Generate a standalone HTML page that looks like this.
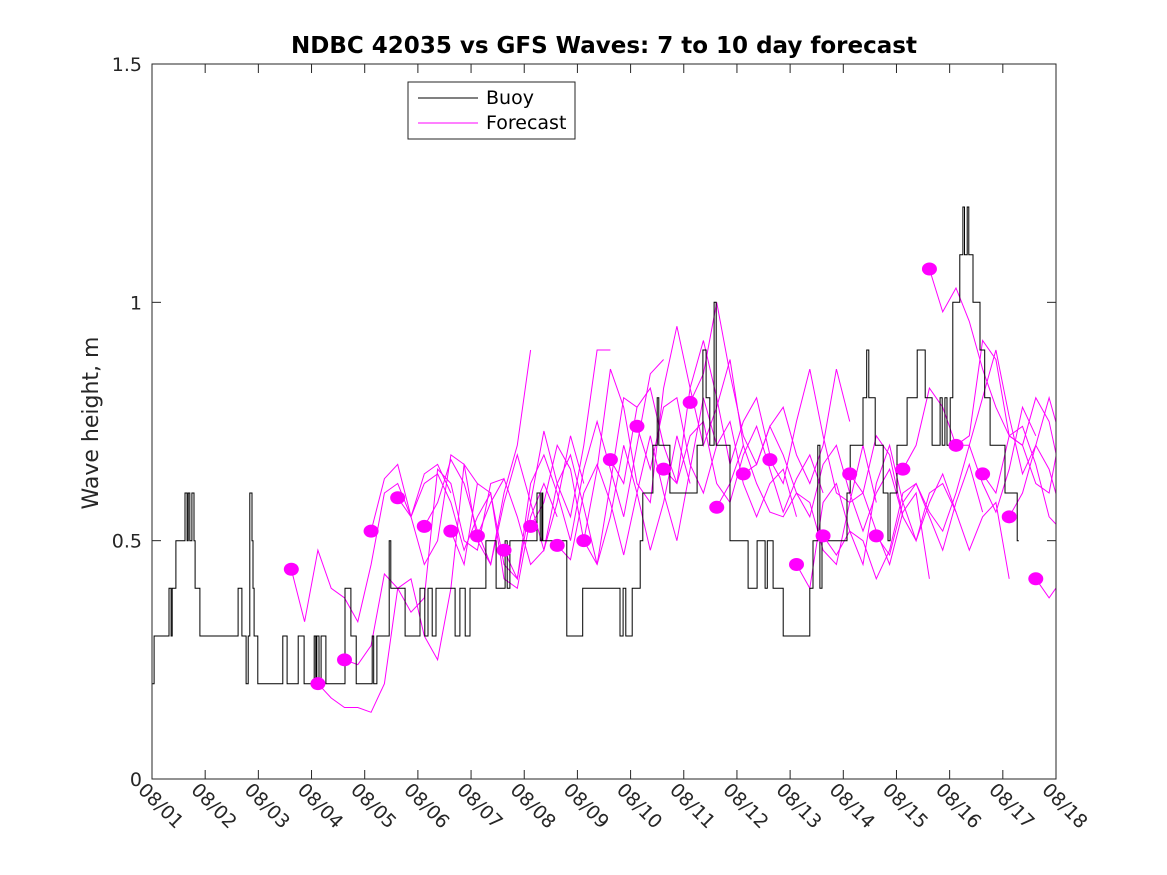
<!DOCTYPE html>
<html><head><meta charset="utf-8"><style>
html,body{margin:0;padding:0;background:#fff;}
svg{display:block;font-family:"DejaVu Sans","Liberation Sans",sans-serif;}
</style></head><body>
<svg id="chart" width="1167" height="875" viewBox="0 0 1167 875" xmlns="http://www.w3.org/2000/svg">
<defs><clipPath id="plotclip"><rect x="152" y="64" width="904" height="715"/></clipPath></defs>
<rect x="0" y="0" width="1167" height="875" fill="#fff"/>
<text x="604" y="53" text-anchor="middle" font-size="23" font-weight="bold" fill="#000">NDBC 42035 vs GFS Waves: 7 to 10 day forecast</text>
<text transform="translate(98,423) rotate(-90)" text-anchor="middle" font-size="22" fill="#262626">Wave height, m</text>
<g id="axes"></g>
<g id="forecast" clip-path="url(#plotclip)"></g>
<g id="buoy" clip-path="url(#plotclip)"></g>
<g id="dots"></g>
<rect x="152" y="64" width="904" height="715" fill="none" stroke="#262626" stroke-width="1"/>
<g>
<rect x="408" y="82" width="167" height="57" fill="#fff" stroke="#262626" stroke-width="1"/>
<line x1="418" y1="98" x2="478" y2="98" stroke="#000" stroke-width="1"/>
<text x="486" y="104" font-size="19" fill="#000">Buoy</text>
<line x1="418" y1="123" x2="478" y2="123" stroke="#ff00ff" stroke-width="1"/>
<text x="486" y="129" font-size="19" fill="#000">Forecast</text>
</g>
</svg>
<script>
const xTickLabels = ["08/01","08/02","08/03","08/04","08/05","08/06","08/07","08/08","08/09","08/10","08/11","08/12","08/13","08/14","08/15","08/16","08/17","08/18"];
const yTicks = [0, 0.5, 1, 1.5];
const yTickLabels = ["0","0.5","1","1.5"];
const buoyDays = [0,0.04,0.32,0.36,0.38,0.45,0.62,0.66,0.68,0.71,0.75,0.79,0.81,0.90,1.62,1.69,1.77,1.81,1.84,1.88,1.90,1.92,1.99,2.46,2.54,2.75,2.86,3.05,3.08,3.10,3.14,3.18,3.27,3.63,3.74,3.84,4.14,4.17,4.23,4.46,4.49,4.53,4.76,5.04,5.13,5.19,5.27,5.34,5.70,5.79,5.89,5.98,6.28,6.47,6.64,6.68,6.73,7.24,7.30,7.33,7.35,7.80,8.10,8.80,8.86,8.91,9.03,9.18,9.23,9.42,9.50,9.53,9.74,10.25,10.36,10.42,10.49,10.57,10.61,10.87,11.21,11.38,11.53,11.57,11.68,11.87,12.37,12.43,12.52,12.56,12.60,13.07,13.13,13.37,13.44,13.48,13.60,13.75,13.84,13.88,14.01,14.20,14.39,14.54,14.67,14.82,14.86,14.91,14.95,15.01,15.06,15.19,15.25,15.28,15.33,15.36,15.44,15.57,15.66,15.76,16.04,16.27,16.30];
const buoyValues = [0.2,0.3,0.4,0.3,0.4,0.5,0.6,0.5,0.6,0.5,0.6,0.5,0.4,0.3,0.4,0.3,0.2,0.3,0.6,0.5,0.4,0.3,0.2,0.3,0.2,0.3,0.2,0.3,0.2,0.3,0.2,0.3,0.2,0.4,0.3,0.2,0.3,0.2,0.3,0.5,0.4,0.4,0.3,0.4,0.3,0.4,0.3,0.4,0.3,0.4,0.3,0.4,0.5,0.4,0.5,0.4,0.5,0.6,0.5,0.6,0.5,0.3,0.4,0.3,0.4,0.3,0.4,0.5,0.6,0.7,0.8,0.7,0.6,0.7,0.9,0.8,0.7,1.0,0.7,0.5,0.4,0.5,0.4,0.5,0.4,0.3,0.4,0.5,0.7,0.4,0.5,0.6,0.7,0.8,0.9,0.8,0.7,0.6,0.5,0.6,0.7,0.8,0.9,0.8,0.7,0.8,0.7,0.8,0.7,0.8,1.0,1.1,1.2,1.1,1.2,1.1,1.0,0.9,0.8,0.7,0.6,0.5,0.5];
const dotStartDay = 2.62;
const dotStepDays = 0.5;
const dotValues = [0.44,0.20,0.25,0.52,0.59,0.53,0.52,0.51,0.48,0.53,0.49,0.50,0.67,0.74,0.65,0.79,0.57,0.64,0.67,0.45,0.51,0.64,0.51,0.65,1.07,0.70,0.64,0.55,0.42];
const forecastStepDays = 0.25;
const f00=[0.44,0.33,0.48,0.40,0.38,0.33,0.45,0.60,0.62,0.55,0.64,0.66,0.60];
const f01=[0.20,0.17,0.15,0.15,0.14,0.20,0.40,0.42,0.30,0.25,0.40,0.66,0.62];
const f02=[0.25,0.24,0.28,0.43,0.40,0.35,0.38,0.65,0.62,0.50,0.48,0.62,0.63];
const f03=[0.52,0.63,0.66,0.55,0.45,0.50,0.68,0.66,0.50,0.45,0.60,0.70,0.90];
const f04=[0.59,0.55,0.62,0.64,0.58,0.48,0.55,0.60,0.42,0.40,0.55,0.62,0.55];
const f05=[0.53,0.58,0.67,0.62,0.52,0.45,0.58,0.68,0.58,0.48,0.58,0.72,0.62];
const f06=[0.52,0.45,0.62,0.60,0.45,0.42,0.58,0.73,0.62,0.55,0.70,0.90,0.90];
const f07=[0.51,0.58,0.63,0.55,0.45,0.48,0.62,0.68,0.57,0.45,0.62,0.80,0.78];
const f08=[0.48,0.42,0.62,0.68,0.60,0.50,0.65,0.75,0.65,0.55,0.70,0.85,0.88];
const f09=[0.53,0.58,0.70,0.65,0.50,0.45,0.55,0.70,0.60,0.48,0.58,0.72,0.62];
const f10=[0.49,0.46,0.60,0.66,0.58,0.47,0.60,0.72,0.60,0.50,0.65,0.80,0.70];
const f11=[0.50,0.65,0.86,0.78,0.62,0.58,0.82,0.95,0.82,0.70,0.78,0.88,0.70];
const f12=[0.67,0.62,0.78,0.82,0.70,0.62,0.82,0.92,0.80,0.66,0.75,0.80,0.68];
const f13=[0.74,0.65,0.78,0.80,0.66,0.60,0.70,0.75,0.62,0.55,0.62,0.65,0.55];
const f14=[0.65,0.62,0.72,0.75,0.62,0.58,0.68,0.74,0.65,0.56,0.63,0.68,0.60];
const f15=[0.79,0.85,1.00,0.85,0.72,0.66,0.74,0.78,0.68,0.62,0.70,0.86,0.75];
const f16=[0.57,0.62,0.70,0.62,0.56,0.55,0.60,0.58,0.48,0.45,0.58,0.70,0.58];
const f17=[0.64,0.66,0.74,0.68,0.60,0.55,0.66,0.70,0.60,0.52,0.60,0.65,0.55];
const f18=[0.67,0.62,0.75,0.86,0.72,0.60,0.58,0.60,0.52,0.45,0.56,0.60,0.42];
const f19=[0.45,0.40,0.58,0.62,0.52,0.45,0.62,0.70,0.58,0.50,0.60,0.62,0.56];
const f20=[0.51,0.47,0.52,0.50,0.42,0.48,0.60,0.62,0.55,0.48,0.58,0.66,0.56];
const f21=[0.64,0.60,0.72,0.68,0.55,0.50,0.58,0.64,0.56,0.48,0.55,0.58,0.42];
const f22=[0.51,0.47,0.58,0.62,0.56,0.52,0.60,0.70,0.62,0.56,0.65,0.78,0.72];
const f23=[0.65,0.70,0.82,0.78,0.70,0.70,0.80,0.90,0.76,0.64,0.70,0.80,0.70];
const f24=[1.07,0.98,1.03,0.96,0.86,0.78,0.72,0.74,0.66,0.55,0.52,0.45,0.42];
const f25=[0.70,0.72,0.92,0.88,0.72,0.70,0.80,0.75,0.62,0.50,0.45,0.40,0.37];
const f26=[0.64,0.60,0.72,0.70,0.62,0.60,0.75,0.72,0.60,0.48,0.44,0.38,0.35];
const f27=[0.55,0.60,0.70,0.65,0.55,0.45,0.40,0.45];
const f28=[0.42,0.38,0.42,0.46];
const forecasts=[f00,f01,f02,f03,f04,f05,f06,f07,f08,f09,f10,f11,f12,f13,f14,f15,f16,f17,f18,f19,f20,f21,f22,f23,f24,f25,f26,f27,f28];

const NS="http://www.w3.org/2000/svg";
const X0=152,X1=1056,Y0=779,Y1=64,DAYS=17,YMAX=1.5;
function xs(d){return X0+(X1-X0)*d/DAYS;}
function ys(v){return Y0-(Y0-Y1)*v/YMAX;}
function mk(tag,attrs){const e=document.createElementNS(NS,tag);for(const k in attrs)e.setAttribute(k,attrs[k]);return e;}

const axes=document.getElementById('axes');
xTickLabels.forEach((lab,i)=>{
  const x=xs(i);
  const t1=mk('line',{x1:x,y1:Y0,x2:x,y2:Y0-9,stroke:'#262626'});
  
  
  axes.appendChild(t1);
  const t2=mk('line',{x1:x,y1:Y1,x2:x,y2:Y1+9,stroke:'#262626'});
  
  
  axes.appendChild(t2);
  const tx=mk('text',{x:0,y:0,'font-size':19,fill:'#262626',transform:'translate('+(x-15)+','+(Y0+12)+') rotate(45)'});
  tx.textContent=lab;
  
  
  axes.appendChild(tx);
});
yTicks.forEach((v,i)=>{
  const y=ys(v);
  const t1=mk('line',{x1:X0,y1:y,x2:X0+9,y2:y,stroke:'#262626'});
  
  
  axes.appendChild(t1);
  const t2=mk('line',{x1:X1,y1:y,x2:X1-9,y2:y,stroke:'#262626'});
  
  
  axes.appendChild(t2);
  const tx=mk('text',{x:X0-10,y:y+7,'font-size':19,fill:'#262626','text-anchor':'end'});
  tx.textContent=yTickLabels[i];
  
  
  axes.appendChild(tx);
});

const fg=document.getElementById('forecast');
forecasts.forEach((arr,i)=>{
  const d0=dotStartDay+i*dotStepDays;
  const pts=arr.map((v,j)=>xs(d0+j*forecastStepDays).toFixed(1)+','+ys(v).toFixed(1)).join(' ');
  const pl=mk('polyline',{points:pts,fill:'none',stroke:'#ff00ff','stroke-width':1});
  
  
  fg.appendChild(pl);
});

const bg=document.getElementById('buoy');
let p='';
buoyDays.forEach((d,i)=>{
  const x=xs(d).toFixed(1),y=ys(buoyValues[i]).toFixed(1);
  if(i===0)p+='M'+x+','+y;
  else p+=' H'+x+' V'+y;
});
const bp=mk('path',{d:p,fill:'none',stroke:'#000','stroke-width':1});


bg.appendChild(bp);

const dg=document.getElementById('dots');
dotValues.forEach((v,i)=>{
  const c=mk('ellipse',{cx:xs(dotStartDay+i*dotStepDays),cy:ys(v),rx:7.5,ry:6.5,fill:'#ff00ff'});
  
  
  dg.appendChild(c);
});
</script>
</body></html>
